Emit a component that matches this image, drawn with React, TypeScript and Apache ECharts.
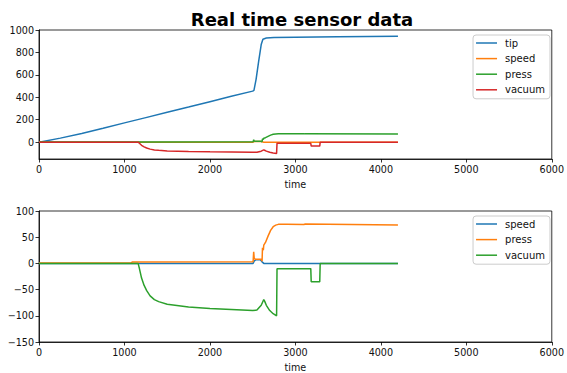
import React, { useEffect, useRef } from "react";
import * as echarts from "echarts";

const xTicks = [0, 1000, 2000, 3000, 4000, 5000, 6000];
const topYTicks = [0, 200, 400, 600, 800, 1000];
const bottomYTicks = [-150, -100, -50, 0, 50, 100];

const tipData: [number, number][] = [
  [0, 0], [250, 36], [500, 78], [750, 124], [1000, 172], [1250, 219], [1500, 266],
  [1750, 313], [2000, 361], [2250, 409], [2500, 455], [2515, 462], [2540, 560],
  [2570, 720], [2600, 870], [2620, 918], [2660, 928], [2750, 933], [3000, 936],
  [3500, 940], [4200, 945],
];
const speedData: [number, number][] = [
  [0, 0], [2505, 0], [2520, 5], [2540, 7], [2590, 7], [2610, 3], [2630, 0], [4200, 0],
];
const pressData: [number, number][] = [
  [0, 1], [1080, 1], [1090, 2.5], [2505, 3], [2512, 22], [2518, 10], [2530, 8],
  [2600, 8], [2610, 4], [2615, 30], [2625, 25], [2630, 35], [2650, 40], [2680, 52],
  [2710, 63], [2740, 70], [2770, 73], [2800, 74.5], [2900, 74.5], [3100, 74],
  [3110, 75], [4200, 73.5],
];
const vacuumData: [number, number][] = [
  [0, 0], [1160, 0], [1175, -10], [1200, -28], [1230, -42], [1260, -52], [1300, -62],
  [1350, -69], [1400, -73], [1500, -78], [1750, -83], [2000, -86], [2250, -88],
  [2500, -90], [2550, -89], [2600, -80], [2630, -69], [2640, -72], [2660, -80],
  [2700, -90], [2740, -96], [2780, -100], [2785, -10], [3180, -10], [3185, -35],
  [3285, -35], [3290, 0], [4200, 0],
];

const C = ["#1f77b4", "#ff7f0e", "#2ca02c", "#d62728"];
const FONT = "DejaVu Sans";
const fmt = (v: number) => String(v).replace("-", "\u2212");

export default function App() {
  const ref = useRef<HTMLDivElement>(null);
  useEffect(() => {
    if (!ref.current) return;
    const chart = echarts.init(ref.current, undefined, { renderer: "svg" });
    const axisCommon = {
      axisLine: { show: true, onZero: false, lineStyle: { color: "#000", width: 0.8 } },
      axisTick: { show: true, length: 3.5, lineStyle: { color: "#000", width: 0.8 } },
      axisLabel: { color: "#111", fontSize: 9.6, fontFamily: FONT, margin: 5, formatter: fmt },
      splitLine: { show: false },
    };
    const xAxis = (gi: number) => ({
      type: "value",
      gridIndex: gi,
      min: 0,
      max: 6000,
      interval: 1000,
      name: "time",
      nameLocation: "middle",
      nameGap: 20,
      nameTextStyle: { color: "#111", fontSize: 9.6, fontFamily: FONT },
      ...axisCommon,
      axisLabel: { ...axisCommon.axisLabel, customValues: xTicks },
      axisTick: { ...axisCommon.axisTick, customValues: xTicks },
    });
    const line = (name: string, data: [number, number][], color: string, gi: number) => ({
      type: "line",
      name,
      data,
      xAxisIndex: gi,
      yAxisIndex: gi,
      showSymbol: false,
      symbol: "none",
      lineStyle: { color, width: 1.5 },
      itemStyle: { color },
      color,
    });
    const legendCommon = {
      orient: "vertical",
      right: 17,
      itemWidth: 21,
      itemHeight: 1.5,
      itemGap: 5.6,
      padding: [3, 5, 4, 3],
      borderColor: "#ccc",
      borderWidth: 1,
      borderRadius: 3,
      backgroundColor: "#fff",
      textStyle: { color: "#111", fontSize: 10, fontFamily: FONT, lineHeight: 10, padding: [0, 0, 0, 3] },
      icon: "rect",
    };
    chart.setOption({
      animation: false,
      backgroundColor: "#fff",
      title: {
        text: "Real time sensor data",
        left: 297,
        textAlign: "center",
        top: 5,
        textStyle: { fontSize: 18, fontWeight: "bold", fontFamily: FONT, color: "#000" },
      },
      grid: [
        { left: 39, right: 12, top: 30, height: 129, show: true, borderColor: "#000", borderWidth: 0.8 },
        { left: 39, right: 12, top: 211, height: 131, show: true, borderColor: "#000", borderWidth: 0.8 },
      ],
      xAxis: [xAxis(0), xAxis(1)],
      yAxis: [
        {
          type: "value",
          gridIndex: 0,
          min: -150,
          max: 1000,
          ...axisCommon,
          axisLabel: { ...axisCommon.axisLabel, customValues: topYTicks },
          axisTick: { ...axisCommon.axisTick, customValues: topYTicks },
        },
        {
          type: "value",
          gridIndex: 1,
          min: -150,
          max: 100,
          interval: 50,
          ...axisCommon,
          axisLabel: { ...axisCommon.axisLabel, customValues: bottomYTicks },
          axisTick: { ...axisCommon.axisTick, customValues: bottomYTicks },
        },
      ],
      legend: [
        {
          ...legendCommon,
          top: 35,
          data: ["tip", "speed", "press", "vacuum"].map((n, i) => ({
            name: n,
            itemStyle: { color: C[i] },
          })),
        },
        {
          ...legendCommon,
          top: 216,
          data: ["speed_b", "press_b", "vacuum_b"].map((n, i) => ({
            name: n,
            itemStyle: { color: C[i] },
          })),
          formatter: (n: string) => n.replace("_b", ""),
        },
      ],
      series: [
        line("tip", tipData, C[0], 0),
        line("speed", speedData, C[1], 0),
        line("press", pressData, C[2], 0),
        line("vacuum", vacuumData, C[3], 0),
        line("speed_b", speedData, C[0], 1),
        line("press_b", pressData, C[1], 1),
        line("vacuum_b", vacuumData, C[2], 1),
      ],
    });
    return () => chart.dispose();
  }, []);
  return (
    <div
      ref={ref}
      style={{ position: "fixed", left: 0, top: 0, width: 567, height: 373 }}
    />
  );
}
